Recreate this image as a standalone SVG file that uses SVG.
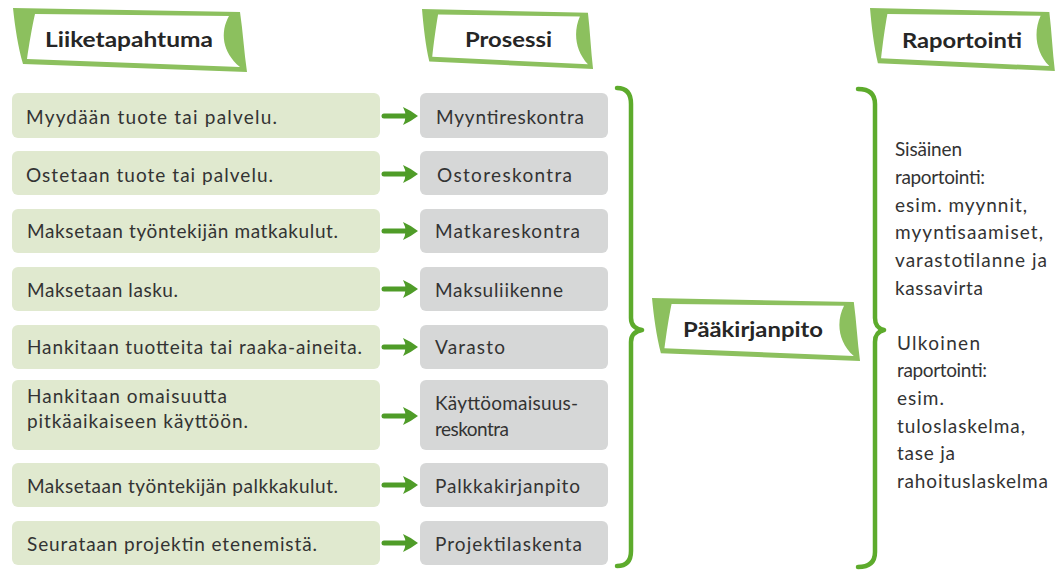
<svg xmlns="http://www.w3.org/2000/svg" width="1055" height="571" viewBox="0 0 1055 571">
  <style>
    .hdr { font-family: Lato, "Open Sans", "DejaVu Sans", sans-serif; font-weight: 700; font-size: 20px; fill: #262626; }
    .txt { font-family: Lato, "Open Sans", "DejaVu Sans", sans-serif; font-size: 19px; fill: #333333; }
    .event { fill: #e0e9cf; }
    .proc { fill: #d6d7d7; }
    .brace { fill: none; stroke: #5dab2c; stroke-width: 4.5; stroke-linecap: round; stroke-linejoin: round; }
    .arrow-shaft { fill: none; stroke: #4f9c28; stroke-width: 5; stroke-linecap: round; }
    .arrow-head { fill: #4f9c28; }
  </style>
  <defs>
    <!-- ribbon-shaped title banner, 234 x 66 base size -->
    <g id="banner">
      <path d="M0,1 L227,5 C230,25 231,45 234,65 L10,57 C5,40 2,20 0,1 Z" fill="#8cc05e"/>
      <path d="M22,7 L216,9 C207,25 209,45 227,60 L14,52 C16,38 19,20 22,7 Z" fill="#ffffff"/>
    </g>
    <!-- green arrow pointing right, tip at (0,0) -->
    <g id="arrow">
      <path class="arrow-shaft" d="M-34,0 L-8,0"/>
      <path class="arrow-head" d="M-15,-9 Q-8,-6 0,0 Q-8,6 -15,9 Q-10,0 -15,-9 Z"/>
    </g>
  </defs>

  <rect width="1055" height="571" fill="#ffffff"/>

  <!-- column headers -->
  <g id="header-liiketapahtuma">
    <use href="#banner" transform="translate(13,7)"/>
    <text class="hdr" x="45" y="47" textLength="168" lengthAdjust="spacingAndGlyphs">Liiketapahtuma</text>
  </g>
  <g id="header-prosessi">
    <use href="#banner" transform="translate(422,8) scale(0.731,0.939)"/>
    <text class="hdr" x="465" y="47" textLength="87" lengthAdjust="spacingAndGlyphs">Prosessi</text>
  </g>
  <g id="header-raportointi">
    <use href="#banner" transform="translate(870,7) scale(0.79,0.985)"/>
    <text class="hdr" x="902" y="48" textLength="120" lengthAdjust="spacingAndGlyphs">Raportointi</text>
  </g>

  <!-- business events -->
  <g id="event-1"><rect class="event" x="12" y="93" width="368" height="45" rx="6"/>
    <text class="txt" x="26" y="124" textLength="251" lengthAdjust="spacing">Myydään tuote tai palvelu.</text></g>
  <g id="event-2"><rect class="event" x="12" y="151" width="368" height="44" rx="6"/>
    <text class="txt" x="26" y="182" textLength="247" lengthAdjust="spacing">Ostetaan tuote tai palvelu.</text></g>
  <g id="event-3"><rect class="event" x="12" y="209" width="368" height="44" rx="6"/>
    <text class="txt" x="27" y="238" textLength="311" lengthAdjust="spacing">Maksetaan työntekijän matkakulut.</text></g>
  <g id="event-4"><rect class="event" x="12" y="267" width="368" height="44" rx="6"/>
    <text class="txt" x="27" y="297" textLength="151" lengthAdjust="spacing">Maksetaan lasku.</text></g>
  <g id="event-5"><rect class="event" x="12" y="325" width="368" height="44" rx="6"/>
    <text class="txt" x="27" y="354" textLength="335" lengthAdjust="spacing">Hankitaan tuotteita tai raaka-aineita.</text></g>
  <g id="event-6"><rect class="event" x="12" y="380" width="368" height="70" rx="6"/>
    <text class="txt" x="27" y="403" textLength="200" lengthAdjust="spacing">Hankitaan omaisuutta</text>
    <text class="txt" x="27" y="428" textLength="221" lengthAdjust="spacing">pitkäaikaiseen käyttöön.</text></g>
  <g id="event-7"><rect class="event" x="12" y="463" width="368" height="44" rx="6"/>
    <text class="txt" x="27" y="493" textLength="311" lengthAdjust="spacing">Maksetaan työntekijän palkkakulut.</text></g>
  <g id="event-8"><rect class="event" x="12" y="521" width="368" height="44" rx="6"/>
    <text class="txt" x="27" y="551" textLength="290" lengthAdjust="spacing">Seurataan projektin etenemistä.</text></g>

  <!-- processes -->
  <g id="proc-1"><rect class="proc" x="420" y="93" width="188" height="45" rx="6"/>
    <text class="txt" x="436" y="124" textLength="148" lengthAdjust="spacing">Myyntireskontra</text></g>
  <g id="proc-2"><rect class="proc" x="420" y="151" width="188" height="44" rx="6"/>
    <text class="txt" x="437" y="182" textLength="135" lengthAdjust="spacing">Ostoreskontra</text></g>
  <g id="proc-3"><rect class="proc" x="420" y="209" width="188" height="44" rx="6"/>
    <text class="txt" x="435" y="238" textLength="145" lengthAdjust="spacing">Matkareskontra</text></g>
  <g id="proc-4"><rect class="proc" x="420" y="267" width="188" height="44" rx="6"/>
    <text class="txt" x="435" y="297" textLength="128" lengthAdjust="spacing">Maksuliikenne</text></g>
  <g id="proc-5"><rect class="proc" x="420" y="325" width="188" height="44" rx="6"/>
    <text class="txt" x="435" y="354" textLength="70" lengthAdjust="spacing">Varasto</text></g>
  <g id="proc-6"><rect class="proc" x="420" y="380" width="188" height="70" rx="6"/>
    <text class="txt" x="435" y="410" textLength="143" lengthAdjust="spacing">Käyttöomaisuus-</text>
    <text class="txt" x="435" y="436" textLength="74" lengthAdjust="spacing">reskontra</text></g>
  <g id="proc-7"><rect class="proc" x="420" y="463" width="188" height="44" rx="6"/>
    <text class="txt" x="435" y="493" textLength="145" lengthAdjust="spacing">Palkkakirjanpito</text></g>
  <g id="proc-8"><rect class="proc" x="420" y="521" width="188" height="44" rx="6"/>
    <text class="txt" x="435" y="551" textLength="147" lengthAdjust="spacing">Projektilaskenta</text></g>

  <!-- general ledger -->
  <g id="paakirjanpito">
    <use href="#banner" transform="translate(652,297) scale(0.889,0.985)"/>
    <text class="hdr" x="683" y="337" textLength="140" lengthAdjust="spacingAndGlyphs">Pääkirjanpito</text>
  </g>

  <!-- reporting -->
  <g id="raportointi-text">
    <text class="txt" x="895" y="156" textLength="67" lengthAdjust="spacing">Sisäinen</text>
    <text class="txt" x="895" y="184" textLength="90" lengthAdjust="spacing">raportointi:</text>
    <text class="txt" x="895" y="212" textLength="132" lengthAdjust="spacing">esim. myynnit,</text>
    <text class="txt" x="895" y="239" textLength="148" lengthAdjust="spacing">myyntisaamiset,</text>
    <text class="txt" x="895" y="267" textLength="152" lengthAdjust="spacing">varastotilanne ja</text>
    <text class="txt" x="895" y="295" textLength="88" lengthAdjust="spacing">kassavirta</text>
    <text class="txt" x="897" y="350" textLength="83" lengthAdjust="spacing">Ulkoinen</text>
    <text class="txt" x="897" y="377" textLength="90" lengthAdjust="spacing">raportointi:</text>
    <text class="txt" x="897" y="405" textLength="47" lengthAdjust="spacing">esim.</text>
    <text class="txt" x="897" y="433" textLength="128" lengthAdjust="spacing">tuloslaskelma,</text>
    <text class="txt" x="897" y="460" textLength="58" lengthAdjust="spacing">tase ja</text>
    <text class="txt" x="897" y="488" textLength="151" lengthAdjust="spacing">rahoituslaskelma</text>
  </g>

  <!-- connectors: arrows and braces -->
  <g id="connectors">
    <use href="#arrow" transform="translate(418,116)"/>
    <use href="#arrow" transform="translate(418,174)"/>
    <use href="#arrow" transform="translate(418,231)"/>
    <use href="#arrow" transform="translate(418,289)"/>
    <use href="#arrow" transform="translate(418,347)"/>
    <use href="#arrow" transform="translate(418,416)"/>
    <use href="#arrow" transform="translate(418,485)"/>
    <use href="#arrow" transform="translate(418,543)"/>
    <path class="brace" d="M617,88 Q631,88 631,104 L631,318 Q631,328 642,330 Q631,332 631,342 L631,551 Q631,566 617,566"/>
    <path class="brace" d="M858,89 Q875,89 875,104 L875,318 Q875,328 884,330 Q875,332 875,342 L875,552 Q875,567 858,567"/>
  </g>
</svg>
